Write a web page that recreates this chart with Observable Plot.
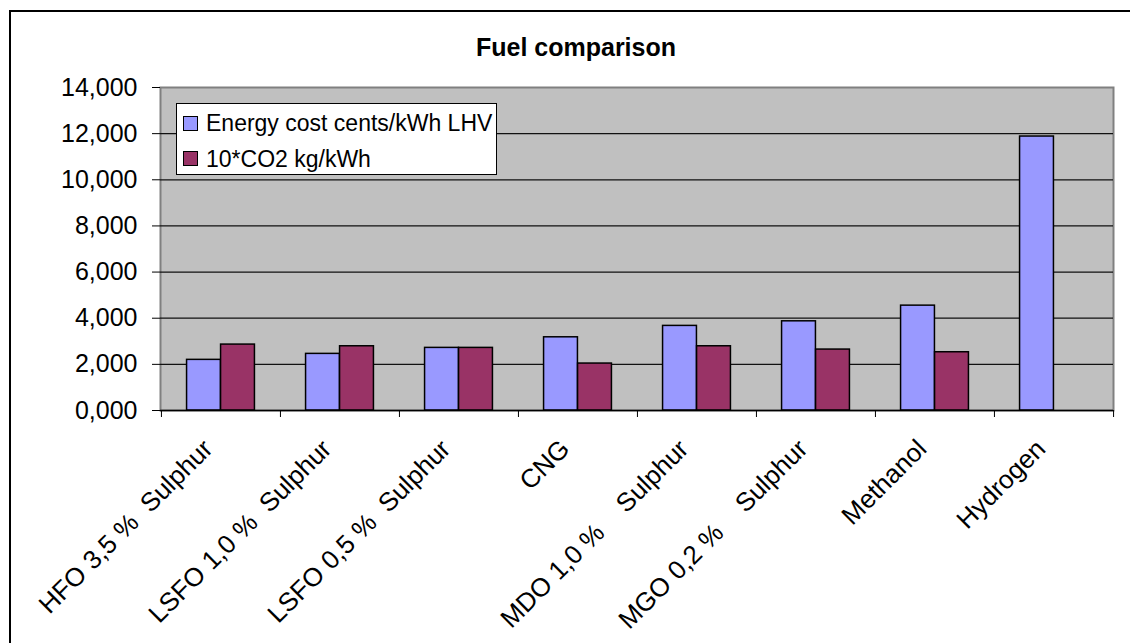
<!DOCTYPE html>
<html>
<head>
<meta charset="utf-8">
<script src="https://cdn.jsdelivr.net/npm/d3@7"></script>
<script src="https://cdn.jsdelivr.net/npm/@observablehq/plot@0.6"></script>
<style>
  html, body { margin: 0; padding: 0; background: #fff; overflow: hidden; }
  #wrap { position: relative; width: 1130px; height: 643px; overflow: hidden; font-family: "Liberation Sans", Arial, sans-serif; }
  #border { position: absolute; left: 9px; top: 10px; width: 1300px; height: 900px; border: 2px solid #000; box-sizing: border-box; }
  #chart { position: absolute; left: 0; top: 0; }
  #title { position: absolute; left: 0; width: 1152px; top: 35px; text-align: center; font-weight: bold; font-size: 25px; line-height: 25px; color: #000; }
  #legend { position: absolute; left: 176px; top: 103px; width: 321px; height: 72px; box-sizing: border-box; border: 1px solid #000; background: #fff; }
  .sw { position: absolute; width: 15px; height: 15px; box-sizing: border-box; border: 1px solid #000; }
  .lt { position: absolute; font-size: 23px; line-height: 23px; color: #000; white-space: nowrap; }
</style>
</head>
<body>
<div id="wrap">
  <div id="border"></div>
  <div id="chart"></div>
  <div id="title">Fuel comparison</div>
  <div id="legend"></div>
</div>
<script>
// ---- data ----
const categories = [
  "HFO 3,5 %  Sulphur",
  "LSFO 1,0 %  Sulphur",
  "LSFO 0,5 %  Sulphur",
  "CNG",
  "MDO 1,0 %    Sulphur",
  "MGO 0,2 %    Sulphur",
  "Methanol",
  "Hydrogen"
];
const energyCost = [2.195, 2.454, 2.714, 3.173, 3.667, 3.866, 4.545, 11.875];
const co2x10 = [2.857, 2.784, 2.714, 2.035, 2.784, 2.641, 2.525, 0];
const yTicks = [0, 2, 4, 6, 8, 10, 12, 14];
const seriesNames = ["Energy cost cents/kWh LHV", "10*CO2 kg/kWh"];
const seriesColors = ["#9999ff", "#993366"];

const rows = categories.map((c, i) => ({category: c, energy: energyCost[i], co2: co2x10[i]}));

const W = 1130, H = 643, ML = 160, MR = 17, MT = 87, MB = 233;
const step = (W - ML - MR) / categories.length;
const barW = 34;
const inset = (step - barW) / 2;
const fmt = d => d.toFixed(3).replace(".", ",");
const nb = s => s.replace(/ /g, "\u00A0");

const chart = Plot.plot({
  width: W, height: H,
  marginLeft: ML, marginRight: MR, marginTop: MT, marginBottom: MB,
  style: {fontFamily: "'Liberation Sans', Arial, sans-serif", fontSize: "25px", color: "#000", background: "transparent", overflow: "visible"},
  x: {domain: categories, padding: 0, label: null, axis: null},
  y: {domain: [0, 14], label: null, axis: null},
  marks: [
    Plot.frame({fill: "#c0c0c0", stroke: "#808080", strokeWidth: 2}),
    Plot.gridY(yTicks.filter(t => t > 0 && t < 14), {stroke: "#111", strokeOpacity: 1, strokeWidth: 1.3}),
    Plot.barY(rows, {x: "category", y: "energy", fill: seriesColors[0], stroke: "#000", strokeWidth: 1.5, insetLeft: inset, insetRight: inset, dx: -barW / 2}),
    Plot.barY(rows.filter(r => r.co2 > 0), {x: "category", y: "co2", fill: seriesColors[1], stroke: "#000", strokeWidth: 1.5, insetLeft: inset, insetRight: inset, dx: barW / 2}),
    Plot.ruleY([0], {stroke: "#000", strokeWidth: 1.5}),
    Plot.axisY({ticks: yTicks, tickSize: 8, tickPadding: 15, tickFormat: fmt, fontSize: 25, stroke: "#000"}),
    Plot.axisX({text: null, tickSize: 7, dx: -step / 2, stroke: "#000"}),
    Plot.axisX([categories[categories.length - 1]], {text: null, tickSize: 7, dx: step / 2, stroke: "#000"}),
    Plot.text(categories, {x: d => d, y: d => 0, text: d => nb(d), rotate: -45, textAnchor: "end", lineAnchor: "bottom", dx: -7, dy: 40, fontSize: 26, fill: "#000"})
  ]
});
document.getElementById("chart").appendChild(chart);

// legend
const lg = document.getElementById("legend");
seriesNames.forEach((name, i) => {
  const sw = document.createElement("div");
  sw.className = "sw";
  sw.style.left = (183 - 177) + "px";
  sw.style.top = (116 + i * 35 - 104) + "px";
  sw.style.background = seriesColors[i];
  lg.appendChild(sw);
  const t = document.createElement("div");
  t.className = "lt";
  t.style.left = (206 - 177) + "px";
  t.style.top = (131 + i * 36 - 104 - 19) + "px";
  t.textContent = name;
  lg.appendChild(t);
});
</script>
</body>
</html>
